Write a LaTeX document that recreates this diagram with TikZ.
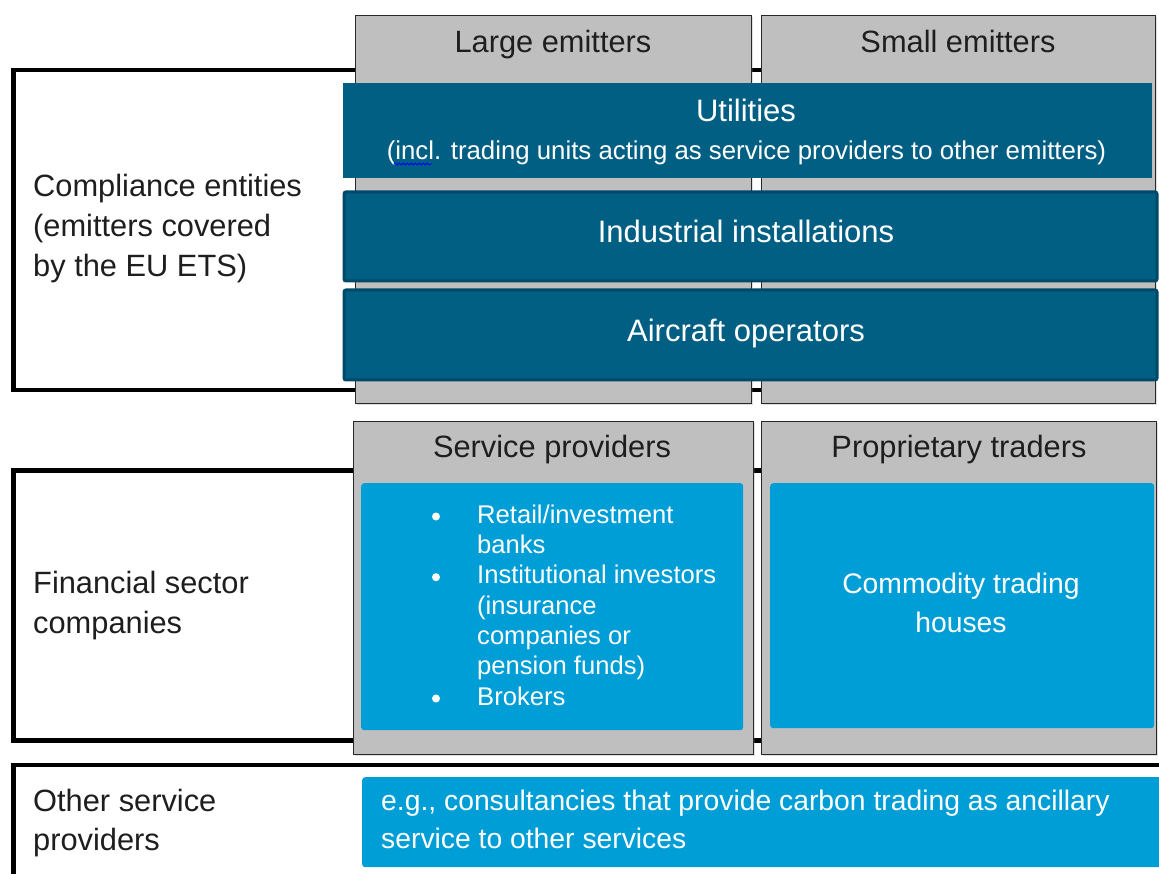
\documentclass[tikz,border=0pt]{standalone}
\usepackage{fontspec}
\setmainfont{Liberation Sans}
\usetikzlibrary{shadows,decorations.pathmorphing}
\definecolor{greyfill}{RGB}{191,191,191}
\definecolor{greyline}{RGB}{40,40,40}
\definecolor{darkblue}{RGB}{0,95,131}
\definecolor{darkblueline}{RGB}{0,72,104}
\definecolor{lightblue}{RGB}{0,158,214}
\definecolor{txtgrey}{RGB}{30,30,30}
\tikzset{
  outerbox/.style={draw=black, line width=4.5pt, fill=white},
  greybox/.style={draw=greyline, line width=1.3pt, fill=greyfill, anchor=north west, inner sep=0,
    drop shadow={opacity=0.25, shadow xshift=1pt, shadow yshift=-1.5pt}},
  dbox/.style={fill=darkblue, anchor=north west, inner sep=0},
  dboxb/.style={fill=darkblue, draw=darkblueline, line width=3pt, rounded corners=2pt, anchor=north west, inner sep=0},
  lbox/.style={fill=lightblue, rounded corners=3pt, anchor=north west, inner sep=0},
  big/.style={inner sep=0, font=\fontsize{30.8}{41}\selectfont, text=txtgrey},
  bigw/.style={inner sep=0, font=\fontsize{31}{41}\selectfont, text=white},
  midw/.style={inner sep=0, font=\fontsize{28.3}{39}\selectfont, text=white},
  smallw/.style={inner sep=0, font=\fontsize{25.8}{32}\selectfont, text=white},
  bulw/.style={inner sep=0, font=\fontsize{25.6}{30}\selectfont, text=white, anchor=base west},
}
\begin{document}
\begin{tikzpicture}[x=1pt,y=-1pt]
\useasboundingbox (0,0) rectangle (1159,874);
\clip (0,0) rectangle (1159,874);
% outer black boxes
\draw[outerbox] (13.5,70) rectangle (1150,390);
\draw[outerbox] (13.5,470.5) rectangle (1150,740.5);
\draw[outerbox] (13.5,765) rectangle (1175,900);
% grey column boxes
\node[greybox, minimum width=396pt, minimum height=388pt] (large) at (355,15) {};
\node[greybox, minimum width=394pt, minimum height=388pt] (small) at (761,15) {};
\node[greybox, minimum width=400pt, minimum height=333pt] (serv) at (353,421) {};
\node[greybox, minimum width=395pt, minimum height=333pt] (prop) at (761,421) {};
% dark blue bars
\node[dbox, minimum width=809pt, minimum height=95pt] (util) at (343,83) {};
\node[dboxb, minimum width=813pt, minimum height=89pt] (ind) at (342.5,190.5) {};
\node[dboxb, minimum width=813pt, minimum height=90pt] (air) at (342.5,288.5) {};
% light blue boxes
\node[lbox, minimum width=382pt, minimum height=247pt] (spbox) at (361,483) {};
\node[lbox, minimum width=384pt, minimum height=245pt] (cthbox) at (770,483) {};
\node[lbox, minimum width=810pt, minimum height=90pt] (othbox) at (362,777) {};
% headers
\node[big, anchor=base] (tlarge) at (553,53) {Large emitters};
\node[big, anchor=base] (tsmall) at (958,53) {Small emitters};
\node[big, anchor=base] (tserv) at (552,457) {Service providers};
\node[big, anchor=base] (tprop) at (959,457) {Proprietary traders};
% dark bar texts
\node[bigw, anchor=base] (tutil) at (746,122) {Utilities};
\node[smallw, anchor=base] (tincl) at (746.5,160) {(incl. trading units acting as service providers to other emitters)};
\draw[blue, line width=0.8pt, decorate, decoration={snake, amplitude=1.1pt, segment length=4pt}] (394,164) -- (432,164);
\node[bigw, anchor=base] (tind) at (746,243) {Industrial installations};
\node[bigw, anchor=base] (tair) at (746,342) {Aircraft operators};
% left labels
\node[big, anchor=base west] (c1) at (33,197) {Compliance entities};
\node[big, anchor=base west] (c2) at (33,237) {(emitters covered};
\node[big, anchor=base west] (c3) at (33,277) {by the EU ETS)};
\node[big, anchor=base west] (f1) at (33,593) {Financial sector};
\node[big, anchor=base west] (f2) at (33,633) {companies};
\node[big, anchor=base west] (o1) at (33,811) {Other service};
\node[big, anchor=base west] (o2) at (33,850) {providers};
% bullets
\node[bulw] (b1) at (477,523) {Retail/investment};
\node[bulw] (b2) at (477,553.3) {banks};
\node[bulw] (b3) at (477,583.7) {Institutional investors};
\node[bulw] (b4) at (477,614) {(insurance};
\node[bulw] (b5) at (477,644.3) {companies or};
\node[bulw] (b6) at (477,674.7) {pension funds)};
\node[bulw] (b7) at (477,705) {Brokers};
\fill[white] (436,516.5) circle (4pt);
\fill[white] (436,577.2) circle (4pt);
\fill[white] (436,698.5) circle (4pt);
% commodity
\node[midw, anchor=base] (cm1) at (961,593) {Commodity trading};
\node[midw, anchor=base] (cm2) at (961,632) {houses};
% bottom
\node[midw, anchor=base west] (e1) at (381,810) {e.g., consultancies that provide carbon trading as ancillary};
\node[midw, anchor=base west] (e2) at (381,848) {service to other services};
\end{tikzpicture}
\end{document}
